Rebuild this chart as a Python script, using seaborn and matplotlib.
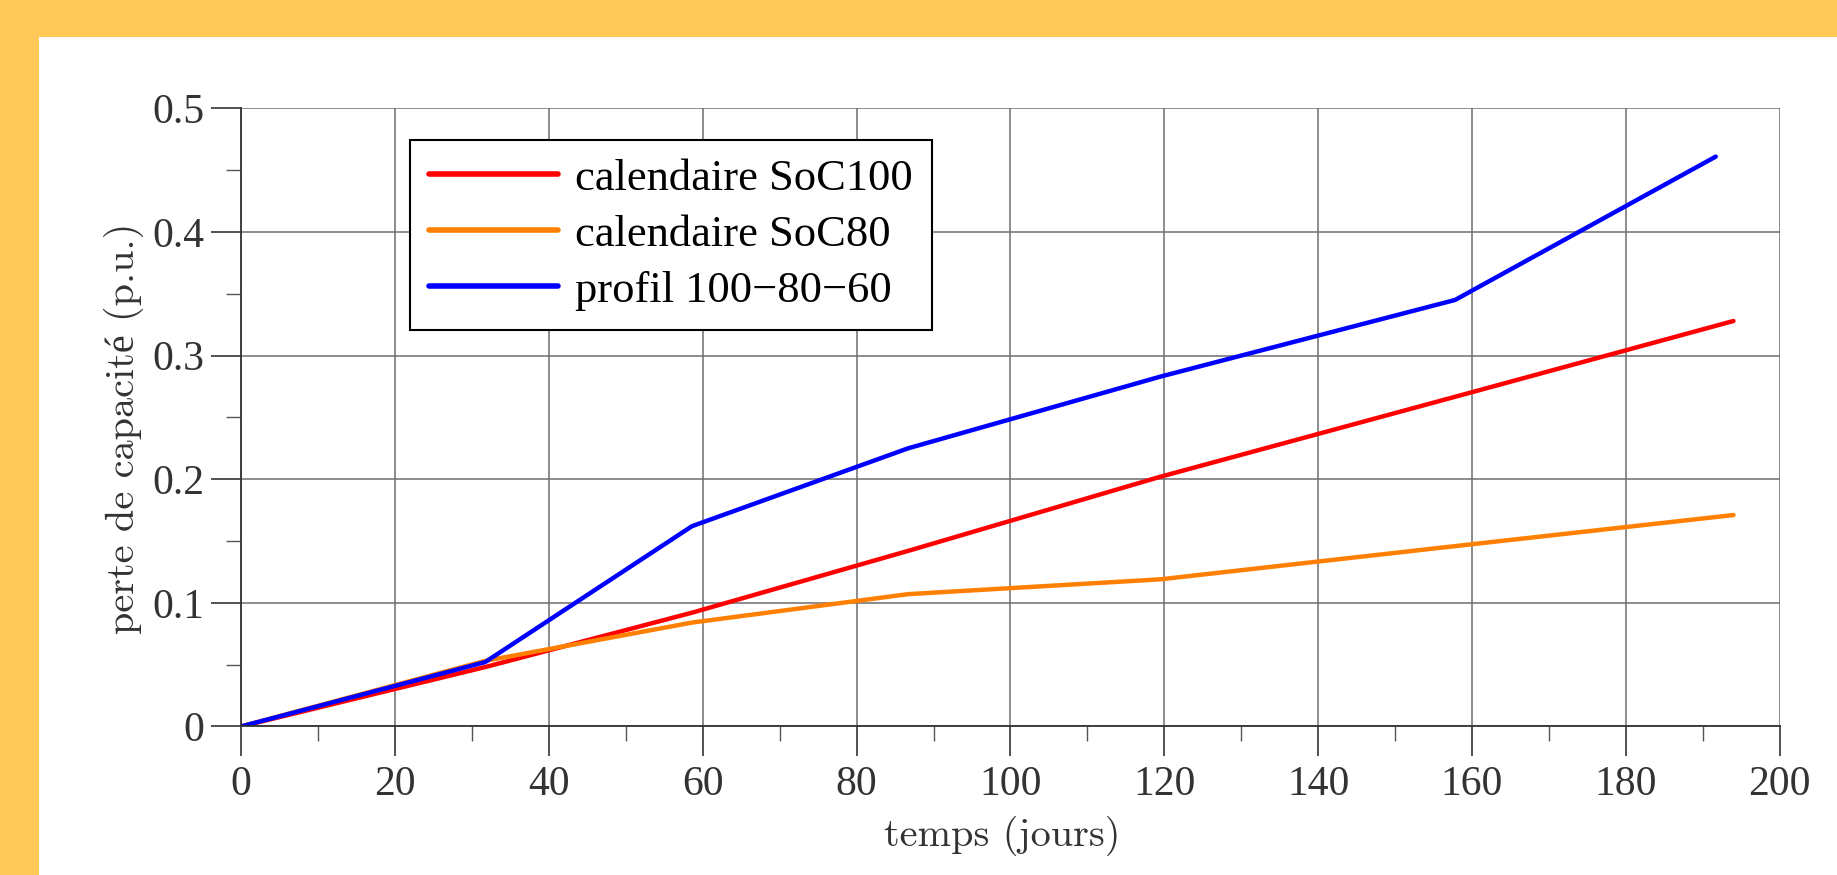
import numpy as np
import pandas as pd
import matplotlib
matplotlib.use("Agg")
import matplotlib.pyplot as plt
import seaborn as sns
from matplotlib.patches import Rectangle
from matplotlib.ticker import MultipleLocator

# data (days, capacity loss in p.u.)
days_cal = [0, 31.7, 58.6, 86.7, 119.5, 158, 194]
days_prof = [0, 31.7, 58.6, 86.7, 119.5, 157.8, 191.7]
loss_soc100 = [0, 0.048, 0.092, 0.142, 0.202, 0.267, 0.328]
loss_soc80 = [0, 0.053, 0.084, 0.107, 0.119, 0.146, 0.171]
loss_profil = [0, 0.052, 0.162, 0.225, 0.283, 0.345, 0.461]

series_names = ["calendaire SoC100", "calendaire SoC80", "profil 100\u221280\u221260"]
colors = ["#FF0000", "#FF8000", "#0000FF"]

df = pd.concat([
    pd.DataFrame({"jours": days_cal, "perte": loss_soc100, "serie": series_names[0]}),
    pd.DataFrame({"jours": days_cal, "perte": loss_soc80, "serie": series_names[1]}),
    pd.DataFrame({"jours": days_prof, "perte": loss_profil, "serie": series_names[2]}),
])

sns.set_style("white")
plt.rcParams["font.family"] = ["Liberation Serif", "DejaVu Serif"]

fig = plt.figure(figsize=(18.37, 8.75), dpi=100, facecolor="#FFC857")
# white panel inside the yellow frame
fig.add_artist(Rectangle((39 / 1837, 0), 1, (875 - 37) / 875,
                         transform=fig.transFigure, facecolor="white",
                         edgecolor="none", zorder=0))

ax = fig.add_axes([241.3 / 1837, 148.6 / 875, 1538.3 / 1837, 618 / 875])
ax.set_facecolor("white")

sns.lineplot(data=df, x="jours", y="perte", hue="serie", palette=colors,
             hue_order=series_names, linewidth=3.2, ax=ax, legend=True)

ax.set_xlim(0, 200)
ax.set_ylim(0, 0.5)
ax.xaxis.set_major_locator(MultipleLocator(20))
ax.xaxis.set_minor_locator(MultipleLocator(10))
ax.yaxis.set_minor_locator(MultipleLocator(0.05))
ax.set_yticks([0, 0.1, 0.2, 0.3, 0.4, 0.5])
ax.set_yticklabels(["0", "0.1", "0.2", "0.3", "0.4", "0.5"])

ax.grid(True, which="major", color="#6e6e6e", linewidth=1.1)
ax.set_axisbelow(True)
for s in ["top", "right"]:
    ax.spines[s].set_visible(False)
for s in ["left", "bottom"]:
    ax.spines[s].set_color("#333333")
    ax.spines[s].set_linewidth(1.3)

ax.tick_params(which="both", bottom=True, left=True, top=False, right=False)
ax.tick_params(which="major", direction="out", length=21.5, width=1.2,
               color="#333333", labelsize=30, labelcolor="#333333", pad=7)
ax.tick_params(which="minor", direction="out", length=11, width=1.0,
               color="#555555")
ax.tick_params(axis="y", which="major", pad=5)

ax.set_xlabel("temps (jours)", family=["cmr10", "Liberation Serif"],
              fontsize=29, color="#333333", labelpad=8)
ax.set_ylabel("perte de capacit\u00e9 (p.u.)", family=["cmr10", "Liberation Serif"],
              fontsize=29, color="#333333", labelpad=6)
ax.xaxis.label.set_x(0.4945)
ax.yaxis.label.set_y(0.483)

leg = ax.legend(loc="upper left", bbox_to_anchor=(0.1097, 0.949),
                borderaxespad=0, fontsize=32, frameon=True, fancybox=False,
                edgecolor="black", handlelength=2.9, handletextpad=0.4,
                labelspacing=0.36, borderpad=0.42)
leg.get_frame().set_linewidth(1.5)
leg.get_frame().set_alpha(1)
for line in leg.get_lines():
    line.set_linewidth(4)
for t in leg.get_texts():
    t.set_color("black")

fig.savefig("out.png", dpi=100)
